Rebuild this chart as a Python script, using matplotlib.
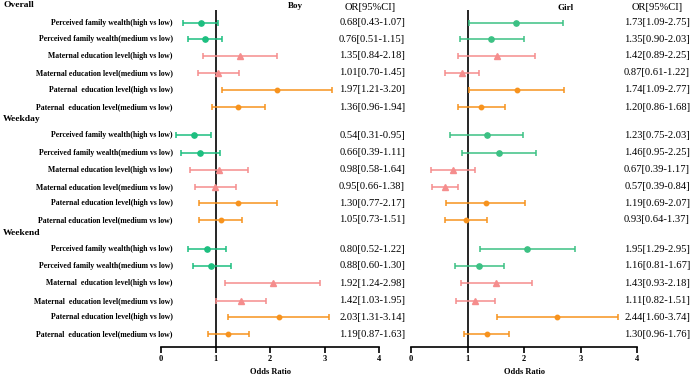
import matplotlib
matplotlib.use("Agg")
import matplotlib.pyplot as plt
import matplotlib.transforms as mtransforms

plt.rcParams['font.family'] = ['Liberation Serif', 'DejaVu Serif']

groups = ["Overall", "Weekday", "Weekend"]
labels_overall = ["Perceived family wealth(high vs low)",
                  "Perceived family wealth(medium vs low)",
                  "Maternal education level(high vs low)",
                  "Maternal education level(medium vs low)",
                  "Paternal  education level(high vs low)",
                  "Paternal  education level(medium vs low)"]
labels_weekday = ["Perceived family wealth(high vs low)",
                  "Perceived family wealth(medium vs low)",
                  "Maternal education level(high vs low)",
                  "Maternal education level(medium vs low)",
                  "Paternal education level(high vs low)",
                  "Paternal education level(medium vs low)"]
labels_weekend = ["Perceived family wealth(high vs low)",
                  "Perceived family wealth(medium vs low)",
                  "Maternal  education level(high vs low)",
                  "Maternal  education level(medium vs low)",
                  "Paternal education level(high vs low)",
                  "Paternal  education level(medium vs low)"]

# Plotted point estimates and CI bounds
boy_or = [0.73, 0.81, 1.45, 1.04, 2.12, 1.42,
          0.60, 0.71, 1.06, 0.99, 1.41, 1.10,
          0.84, 0.92, 2.05, 1.46, 2.16, 1.23]
boy_lo = [0.40, 0.49, 0.77, 0.68, 1.12, 0.93,
          0.27, 0.36, 0.53, 0.63, 0.70, 0.70,
          0.50, 0.58, 1.17, 1.01, 1.23, 0.86]
boy_hi = [1.04, 1.12, 2.13, 1.43, 3.14, 1.91,
          0.92, 1.09, 1.60, 1.37, 2.12, 1.48,
          1.20, 1.28, 2.92, 1.93, 3.08, 1.62]
girl_or = [1.86, 1.42, 1.52, 0.90, 1.87, 1.24,
           1.34, 1.55, 0.74, 0.60, 1.32, 0.98,
           2.06, 1.21, 1.51, 1.14, 2.58, 1.34]
girl_lo = [1.02, 0.86, 0.84, 0.60, 1.02, 0.84,
           0.69, 0.90, 0.35, 0.37, 0.62, 0.61,
           1.23, 0.78, 0.88, 0.79, 1.52, 0.94]
girl_hi = [2.69, 2.00, 2.20, 1.21, 2.71, 1.66,
           1.98, 2.21, 1.13, 0.83, 2.02, 1.35,
           2.90, 1.64, 2.14, 1.49, 3.66, 1.74]

boy_text = ["0.68[0.43-1.07]", "0.76[0.51-1.15]", "1.35[0.84-2.18]",
            "1.01[0.70-1.45]", "1.97[1.21-3.20]", "1.36[0.96-1.94]",
            "0.54[0.31-0.95]", "0.66[0.39-1.11]", "0.98[0.58-1.64]",
            "0.95[0.66-1.38]", "1.30[0.77-2.17]", "1.05[0.73-1.51]",
            "0.80[0.52-1.22]", "0.88[0.60-1.30]", "1.92[1.24-2.98]",
            "1.42[1.03-1.95]", "2.03[1.31-3.14]", "1.19[0.87-1.63]"]
girl_text = ["1.73[1.09-2.75]", "1.35[0.90-2.03]", "1.42[0.89-2.25]",
             "0.87[0.61-1.22]", "1.74[1.09-2.77]", "1.20[0.86-1.68]",
             "1.23[0.75-2.03]", "1.46[0.95-2.25]", "0.67[0.39-1.17]",
             "0.57[0.39-0.84]", "1.19[0.69-2.07]", "0.93[0.64-1.37]",
             "1.95[1.29-2.95]", "1.16[0.81-1.67]", "1.43[0.93-2.18]",
             "1.11[0.82-1.51]", "2.44[1.60-3.74]", "1.30[0.96-1.76]"]
xticks = [0, 1, 2, 3, 4]

# layout (pixel rows, top-down)
row_y = [22.7, 39.3, 56, 72.7, 90, 107.3,
         135.3, 152.7, 170, 186.7, 203.3, 220,
         249.3, 266, 283.3, 300.7, 317.3, 334.3]
header_y = [5, 119, 233]
all_labels = labels_overall + labels_weekday + labels_weekend

green_b, green_g = "#1dbf80", "#3cc184"
pink = "#f58d8d"
orange = "#f7931e"
styles = [("o", 3.8), ("o", 3.8), ("^", 4.0), ("^", 4.0), ("o", 3.2), ("o", 3.2)]

W, H = 700, 374
fig = plt.figure(figsize=(7, 3.74), dpi=100)
ytop, ybot = 10, 347
ax_b = fig.add_axes([161 / W, (H - ybot) / H, 218 / W, (ybot - ytop) / H])
ax_g = fig.add_axes([411 / W, (H - ybot) / H, 226 / W, (ybot - ytop) / H])

for ax, ors, los, his, green in [(ax_b, boy_or, boy_lo, boy_hi, green_b),
                                  (ax_g, girl_or, girl_lo, girl_hi, green_g)]:
    ax.set_xlim(0, 4)
    ax.set_ylim(ybot, ytop)
    ax.axvline(1, color="black", lw=1.2, zorder=1)
    for i in range(18):
        k = i % 6
        col = green if k < 2 else (pink if k < 4 else orange)
        m, ms = styles[k]
        ax.errorbar([ors[i]], [row_y[i]],
                    xerr=[[ors[i] - los[i]], [his[i] - ors[i]]],
                    fmt=m, color=col, ms=ms, elinewidth=1.1,
                    capsize=2.3, capthick=1.1, zorder=3)
    for s in ["left", "right", "top"]:
        ax.spines[s].set_visible(False)
    ax.spines["bottom"].set_linewidth(1.2)
    ax.set_yticks([])
    ax.set_xticks(xticks)
    ax.set_xticklabels([str(t) for t in xticks], fontsize=6, fontweight="bold")
    ax.tick_params(axis="x", direction="out", length=4, width=1.2, pad=2)
    ax.set_xlabel("Odds Ratio", fontsize=6, fontweight="bold", labelpad=3)

# row labels on the left (figure x, data y)
trans_lab = mtransforms.blended_transform_factory(fig.transFigure, ax_b.transData)
for y, lab in zip(row_y, all_labels):
    fig.text(173 / W, 0, lab, transform=trans_lab, ha="right", va="center",
             fontsize=5.6, fontweight="bold").set_y(y)
for y, g in zip(header_y, groups):
    fig.text(3 / W, 0, g, transform=trans_lab, ha="left", va="center",
             fontsize=6.8, fontweight="bold").set_y(y)

# OR text columns
for y, tb, tg in zip(row_y, boy_text, girl_text):
    fig.text(405 / W, 0, tb, transform=trans_lab, ha="right", va="center",
             fontsize=7.6).set_y(y)
    fig.text(690 / W, 0, tg, transform=trans_lab, ha="right", va="center",
             fontsize=7.6).set_y(y)

fig.text(370 / W, 1 - 8 / H, "OR[95%CI]", ha="center", va="center", fontsize=7.6)
fig.text(657 / W, 1 - 8 / H, "OR[95%CI]", ha="center", va="center", fontsize=7.6)
fig.text(295 / W, 1 - 6 / H, "Boy", ha="center", va="center", fontsize=6.5, fontweight="bold")
fig.text(566 / W, 1 - 8 / H, "Girl", ha="center", va="center", fontsize=6.5, fontweight="bold")

fig.savefig("out.png", dpi=100)
